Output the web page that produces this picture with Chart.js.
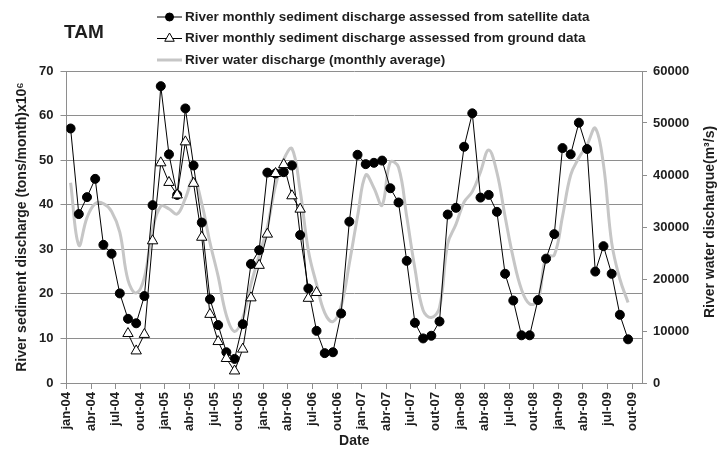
<!DOCTYPE html>
<html>
<head>
<meta charset="utf-8">
<script src="https://cdn.jsdelivr.net/npm/chart.js@4"></script>
<style>
  html, body { margin: 0; padding: 0; background: #fff; }
  #grafico { display: block; }
</style>
</head>
<body>
<canvas id="grafico" width="717" height="452"></canvas>
<script>
    // rótulos do eixo X (um a cada 3 meses, jan-04 .. out-09)
    const rotulosMeses = [
      'jan-04', 'abr-04', 'jul-04', 'out-04',
      'jan-05', 'abr-05', 'jul-05', 'out-05',
      'jan-06', 'abr-06', 'jul-06', 'out-06',
      'jan-07', 'abr-07', 'jul-07', 'out-07',
      'jan-08', 'abr-08', 'jul-08', 'out-08',
      'jan-09', 'abr-09', 'jul-09', 'out-09'
    ];

    // descarga mensal de sedimentos estimada por satélite (x10^6 t/mês), jan-04 .. set-09
    const satelite = [
      57.1, 37.9, 41.7, 45.8, 31.0, 29.0, 20.1, 14.4, 13.4, 19.5, 39.9, 66.6,
      51.3, 42.2, 61.6, 48.8, 36.0, 18.8, 13.0, 6.9, 5.4, 13.2, 26.7, 29.8,
      47.2, 47.0, 47.3, 48.8, 33.2, 21.2, 11.7, 6.7, 6.9, 15.6, 36.2, 51.2,
      49.1, 49.4, 49.9, 43.7, 40.5, 27.4, 13.5, 10.0, 10.6, 13.8, 37.8, 39.3,
      53.0, 60.5, 41.6, 42.2, 38.4, 24.5, 18.5, 10.7, 10.7, 18.6, 27.9, 33.4,
      52.7, 51.3, 58.4, 52.5, 25.0, 30.7, 24.5, 15.3, 9.8
    ];

    // descarga de sedimentos medida em campo (só ago-04 .. jul-06)
    const campo = [
      null, null, null, null, null, null, null, 11.1, 7.2, 10.9, 31.9, 49.4,
      45.0, 42.2, 54.1, 44.8, 32.7, 15.4, 9.3, 5.5, 2.7, 7.6, 19.1, 26.4,
      33.4, 47.0, 49.0, 42.0, 39.0, 19.0, 20.3
    ];

    // vazão média mensal (m3/s)
    const vazao = [
      38500, 26500, 31800, 34500, 34500, 33000, 29000, 19800, 17300, 20300, 29500, 34000,
      33500, 32500, 35500, 39300, 34500, 27000, 20500, 13000, 9900, 12500, 19000, 24500,
      30000, 38000, 43000, 45100, 37000, 25500, 19000, 13500, 11800, 14800, 23000, 32000,
      40000, 37500, 34200, 42500, 41500, 32000, 22000, 14000, 12600, 14500, 26800, 30500,
      34800, 36800, 40600, 44800, 40500, 32000, 24000, 18000, 15200, 15800, 24300, 24600,
      32000, 40000, 43300, 45800, 49000, 42000, 27000, 20000, 15500
    ];

    // cada valor fica no meio do seu mês
    const pontos = serie => serie.map((v, i) => ({ x: i + 0.5, y: v }));

    const familia = '"Liberation Sans", Arial, sans-serif';
    const fonteNegrito = tam => ({ family: familia, size: tam, weight: 'bold' });
    const corGrade = '#8e8e8e';
    const corTexto = '#1e1e1e';

    // título "TAM", legenda e título do eixo da direita (lido de baixo para cima)
    const textosExtras = {
      id: 'textosExtras',
      afterDraw(chart) {
        const ctx = chart.ctx;
        ctx.save();
        ctx.fillStyle = corTexto;
        ctx.textBaseline = 'middle';
        ctx.font = 'bold 19px ' + familia;
        ctx.fillText('TAM', 64, 33);

        const itens = chart.data.datasets.slice().sort((a, b) => a.legendaPos - b.legendaPos);
        ctx.font = 'bold 13.5px ' + familia;
        itens.forEach((ds, k) => {
          const y = 17 + k * 21.5;
          ctx.strokeStyle = ds.borderColor;
          ctx.lineWidth = ds.borderWidth;
          ctx.beginPath();
          ctx.moveTo(157, y);
          ctx.lineTo(182, y);
          ctx.stroke();
          if (ds.pointRadius > 0) {
            ctx.fillStyle = ds.pointBackgroundColor;
            ctx.strokeStyle = ds.pointBorderColor;
            ctx.lineWidth = 1;
            Chart.helpers.drawPoint(ctx, {
              pointStyle: ds.pointStyle,
              radius: ds.pointRadius - 0.5,
              borderWidth: 1,
              rotation: 0
            }, 169.5, y);
          }
          ctx.fillStyle = corTexto;
          ctx.fillText(ds.label, 185, y);
        });

        const { top, bottom } = chart.chartArea;
        ctx.translate(710, (top + bottom) / 2 - 5);
        ctx.rotate(-Math.PI / 2);
        ctx.textAlign = 'center';
        ctx.font = 'bold 14px ' + familia;
        ctx.fillText('River water dischargue(m³/s)', 0, 0);
        ctx.restore();
      }
    };

    new Chart(document.getElementById('grafico'), {
      type: 'line',
      data: {
        datasets: [{
          label: 'River monthly sediment discharge assessed from satellite data',
          legendaPos: 0,
          data: pontos(satelite),
          yAxisID: 'y',
          borderColor: '#000',
          borderWidth: 1,
          pointStyle: 'circle',
          pointRadius: 4.5,
          pointBackgroundColor: '#000',
          pointBorderColor: '#000',
          tension: 0,
          order: 1
        }, {
          label: 'River monthly sediment discharge assessed from ground data',
          legendaPos: 1,
          data: pontos(campo),
          yAxisID: 'y',
          borderColor: '#000',
          borderWidth: 1,
          pointStyle: 'triangle',
          pointRadius: 6,
          pointBackgroundColor: '#fff',
          pointBorderColor: '#000',
          pointBorderWidth: 1,
          spanGaps: false,
          tension: 0,
          order: 0
        }, {
          label: 'River water discharge (monthly average)',
          legendaPos: 2,
          data: pontos(vazao),
          yAxisID: 'y2',
          borderColor: '#c6c6c6',
          borderWidth: 3,
          pointRadius: 0,
          tension: 0.4,
          order: 2
        }]
      },
      options: {
        responsive: false,
        animation: false,
        layout: { padding: { top: 71, left: 0, right: 0, bottom: 0 } },
        plugins: {
          legend: { display: false },
          tooltip: { enabled: false }
        },
        scales: {
          x: {
            type: 'linear',
            min: 0,
            max: 70.2,
            afterBuildTicks: s => { s.ticks = rotulosMeses.map((r, k) => ({ value: k * 3 })); },
            afterFit: s => { s.height = 69; },
            ticks: {
              autoSkip: false,
              minRotation: 90,
              maxRotation: 90,
              padding: 3,
              color: corTexto,
              font: fonteNegrito(13),
              callback: v => rotulosMeses[Math.round(v / 3)]
            },
            grid: { drawOnChartArea: false, tickLength: 6, color: corGrade },
            border: { color: corGrade },
            title: {
              display: true,
              text: 'Date',
              color: corTexto,
              font: fonteNegrito(14),
              padding: { top: 0, bottom: 2 }
            }
          },
          y: {
            position: 'left',
            min: 0,
            max: 70,
            afterFit: s => { s.width = 66.5; },
            ticks: { stepSize: 10, padding: 7, color: corTexto, font: fonteNegrito(13) },
            grid: { color: corGrade, tickLength: 6 },
            border: { color: corGrade },
            title: {
              display: true,
              text: 'River sediment discharge (tons/month)x10⁶',
              color: corTexto,
              font: fonteNegrito(14),
              padding: { top: 14, bottom: 0 }
            }
          },
          y2: {
            position: 'right',
            min: 0,
            max: 60000,
            afterFit: s => { s.width = 75; },
            ticks: {
              stepSize: 10000,
              padding: 6,
              color: corTexto,
              font: fonteNegrito(13),
              callback: v => String(v)
            },
            grid: { drawOnChartArea: false, color: corGrade, tickLength: 5 },
            border: { color: corGrade }
          }
        }
      },
      plugins: [textosExtras]
    });
</script>
</body>
</html>
